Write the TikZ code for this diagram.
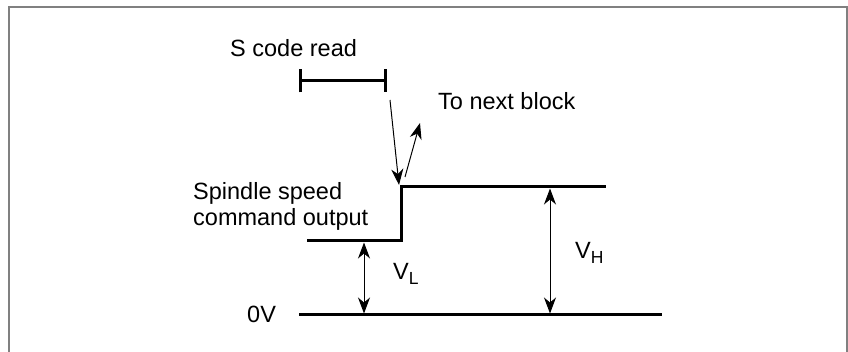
\documentclass[tikz,border=0pt]{standalone}
\usepackage{fontspec}
\setmainfont{Liberation Sans}
\usetikzlibrary{arrows.meta, positioning, calc}
\definecolor{cframe}{HTML}{808080}
\definecolor{cink}{HTML}{000000}
\tikzset{
  every picture/.style={font=\fontsize{23.5}{26}\selectfont, x=1pt, y=-1pt},
  signal/.style={draw=cink, line width=3pt},
  arrow/.style={-{Stealth[length=16pt, width=12pt, inset=5pt]}, draw=cink, line width=1pt},
  dim/.style={{Stealth[length=16pt, width=12pt, inset=5pt]}-{Stealth[length=16pt, width=12pt, inset=5pt]}, draw=cink, line width=1pt},
  note/.style={inner sep=0pt, anchor=base west, align=left},
}
\newcommand{\levelsub}[1]{\raisebox{-5pt}{\fontsize{17.5}{18}\selectfont #1}}
\begin{document}
\begin{tikzpicture}
  \useasboundingbox (0,0) rectangle (848,352);
  \draw[cframe, line width=2pt] (9,360) -- (9,7) -- (847,7) -- (847,360);

  % texts
  \node[note] (sread) at (230,57) {S code read};
  \node[note] (nextblk) at (438,110) {To next block};
  \node[note, anchor=north west] (spindle) at (193,182) {Spindle speed\\command output};
  \node[note] (zerov) at (247,323) {0V};
  \node[note] (vlow) at (393,280) {V\levelsub{L}};
  \node[note] (vhigh) at (575,259) {V\levelsub{H}};

  % S code read interval
  \coordinate (rd0) at (299,81);
  \coordinate (rd1) at (387,81);
  \draw[signal, {Bar[width=23pt]}-{Bar[width=23pt]}] (rd0) -- (rd1);

  % spindle speed command output and 0V level
  \coordinate (lo0) at (307,241);
  \coordinate (edge) at (401,241);
  \coordinate (hi0) at (401,187);
  \coordinate (hi1) at (606,187);
  \draw[signal] (lo0) -- (edge) -- (hi0) -- (hi1);
  \coordinate (z0) at (299,315);
  \coordinate (z1) at (662,315);
  \draw[signal] (z0) -- (z1);

  % read -> output -> next block
  \coordinate (rdtail) at (390,100);
  \coordinate (rdtip) at (399,185);
  \draw[arrow] (rdtail) -- (rdtip);
  \coordinate (nbtail) at (405,177);
  \coordinate (nbtip) at (420,123);
  \draw[arrow] (nbtail) -- (nbtip);

  % levels
  \coordinate (vl0) at (364,242.5);
  \coordinate (vl1) at (364,313.5);
  \draw[dim] (vl0) -- (vl1);
  \coordinate (vh0) at (550,188.5);
  \coordinate (vh1) at (550,313.5);
  \draw[dim] (vh0) -- (vh1);
\end{tikzpicture}
\end{document}
